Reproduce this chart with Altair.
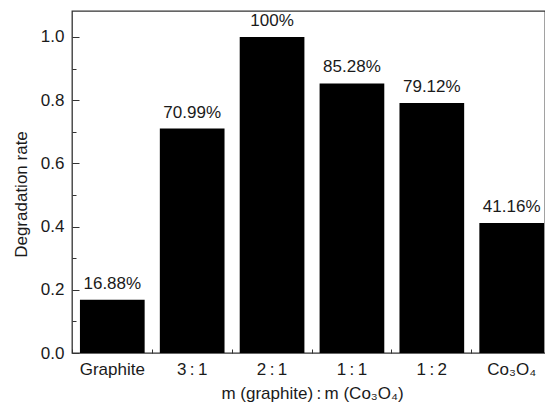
import altair as alt
import pandas as pd

categories = ["Graphite", "3\u2009:\u20091", "2\u2009:\u20091", "1\u2009:\u20091", "1\u2009:\u20092", "Co₃O₄"]
rates = [0.1688, 0.7099, 1.0, 0.8528, 0.7912, 0.4116]
labels = ["16.88%", "70.99%", "100%", "85.28%", "79.12%", "41.16%"]
y_major = [0.0, 0.2, 0.4, 0.6, 0.8, 1.0]
y_minor = [0.1, 0.3, 0.5, 0.7, 0.9]

df = pd.DataFrame({"cat": categories, "rate": rates, "label": labels})

W, H = 473, 342
FONT = "Liberation Sans"
TXT = "#1a1a1a"
FS = 17

xscale = alt.Scale(domain=categories, range=[0, 480], paddingInner=0.19, paddingOuter=0.0995)
yscale = alt.Scale(domain=[0, 1.082], nice=False, zero=True)

base = alt.Chart(df)

bars = base.mark_bar(color="black").encode(
    x=alt.X("cat:N", scale=xscale, sort=categories,
            axis=alt.Axis(title="m (graphite)\u2009:\u2009m (Co₃O₄)", labelAngle=0, ticks=False, tickSize=0,
                          domain=False, labelFont=FONT, labelFontSize=FS, labelColor=TXT,
                          labelPadding=8, titleFont=FONT, titleFontSize=FS, titleFontWeight="normal",
                          titleColor=TXT, titlePadding=8)),
    y=alt.Y("rate:Q", scale=yscale,
            axis=alt.Axis(values=y_major, format=".1f", ticks=False, tickSize=0, domain=False,
                          grid=False, labelFont=FONT, labelFontSize=FS, labelColor=TXT,
                          labelPadding=8, title="Degradation rate", titleFont=FONT,
                          titleFontSize=FS, titleFontWeight="normal", titleColor=TXT,
                          titlePadding=10, titleY=183)),
)

text = base.mark_text(font=FONT, fontSize=FS, color=TXT, baseline="alphabetic", dy=-11).encode(
    x=alt.X("cat:N", scale=xscale, sort=categories, axis=None),
    y=alt.Y("rate:Q", scale=yscale, axis=None),
    text="label:N",
)

ticks_major = base.mark_bar(opacity=0).encode(
    x=alt.X("cat:N", scale=xscale, sort=categories,
            axis=alt.Axis(orient="top", offset=-H, labels=False, domain=False, title=None,
                          tickSize=4, tickColor="#333", tickWidth=1, bandPosition=-0.117)),
    y=alt.Y("rate:Q", scale=yscale,
            axis=alt.Axis(orient="right", offset=-W, values=y_major, labels=False, domain=False,
                          grid=False, title=None, tickSize=7, tickColor="#333", tickWidth=1)),
)

ticks_minor = base.mark_bar(opacity=0).encode(
    x=alt.X("cat:N", scale=xscale, sort=categories, axis=None),
    y=alt.Y("rate:Q", scale=yscale,
            axis=alt.Axis(orient="right", offset=-W, values=y_minor, labels=False, domain=False,
                          grid=False, title=None, tickSize=4, tickColor="#333", tickWidth=1)),
)

chart = alt.layer(bars, text, ticks_major, ticks_minor).resolve_axis(
    x="independent", y="independent"
).properties(
    width=W, height=H,
    autosize=alt.AutoSizeParams(type="none"),
    padding={"left": 64, "top": 3, "right": 0, "bottom": 51},
    background="white",
).configure_view(stroke="#333", strokeWidth=1.3)

chart.save("out.html", embed_options={"renderer": "svg", "actions": False})
